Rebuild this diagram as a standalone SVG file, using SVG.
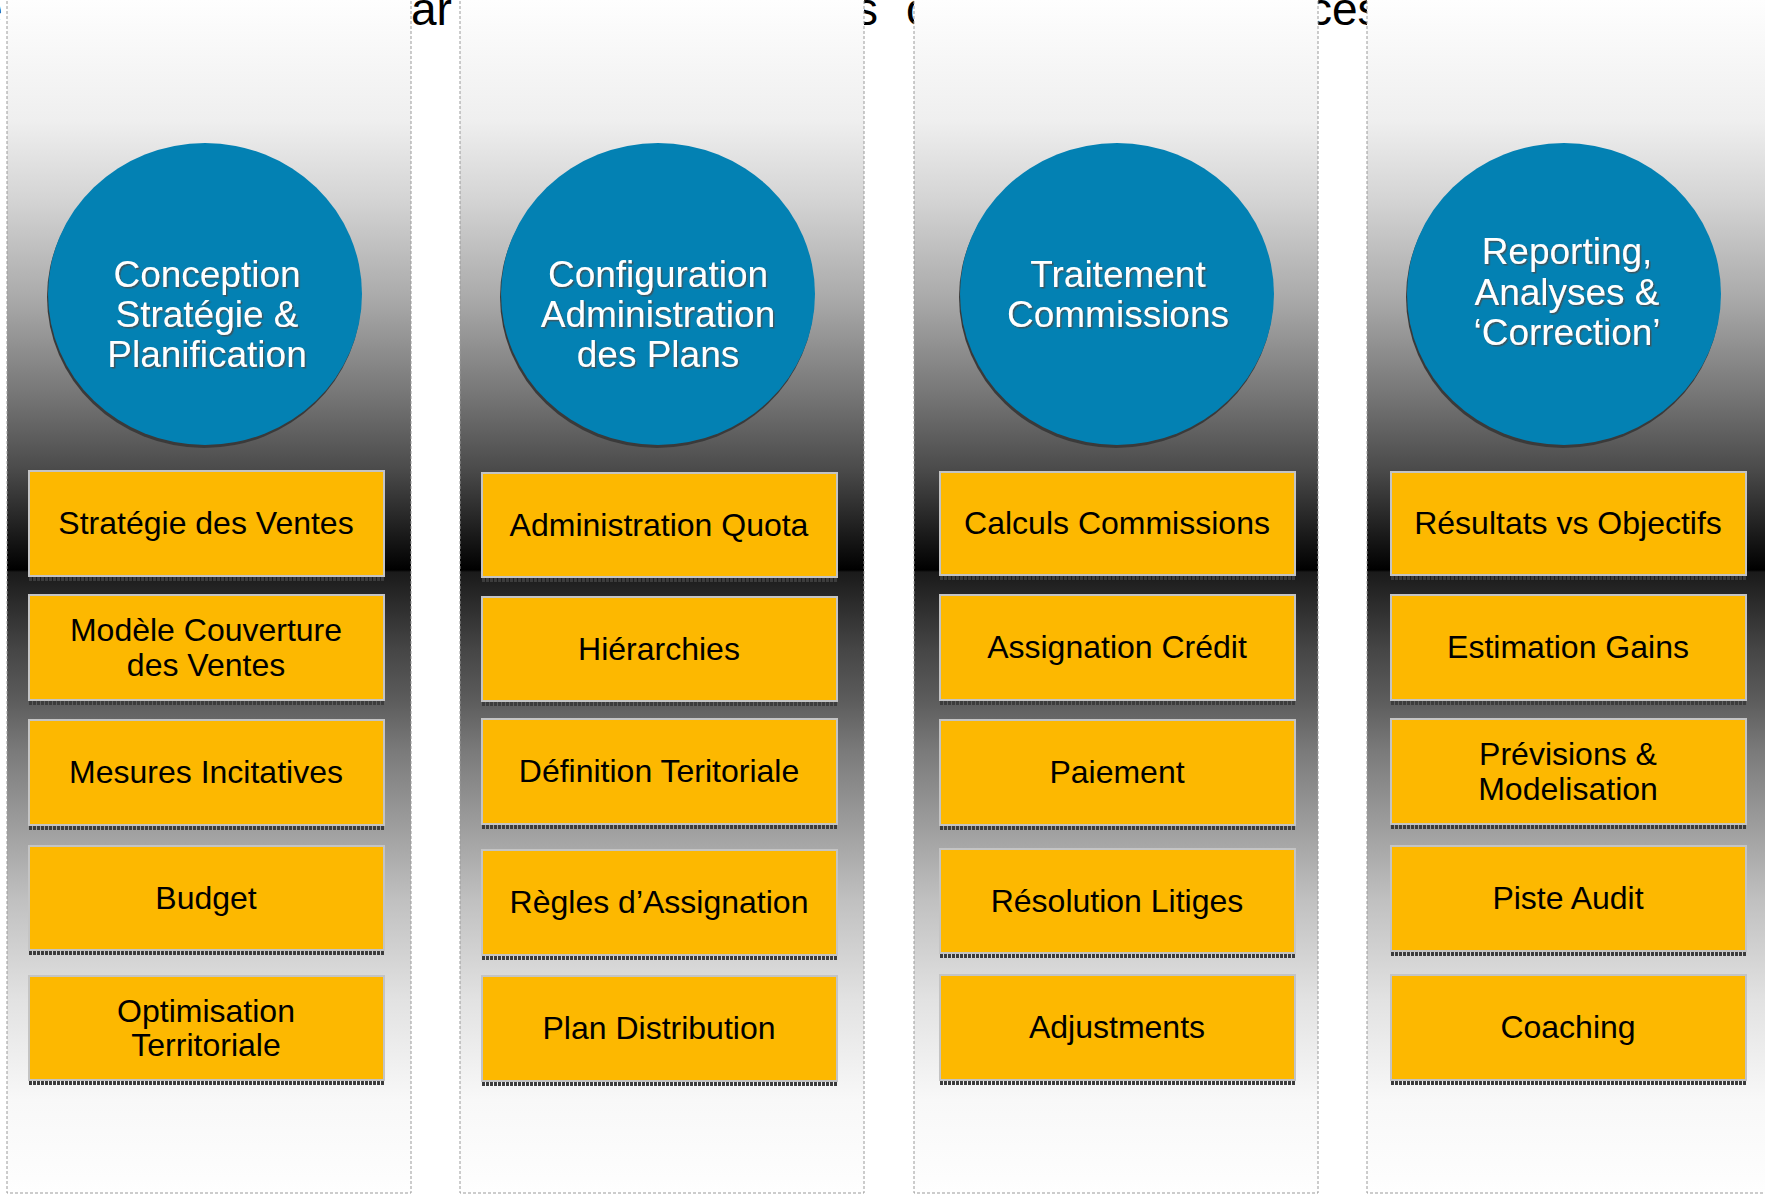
<svg xmlns="http://www.w3.org/2000/svg" width="1765" height="1194" viewBox="0 0 1765 1194">
  <defs>
    <!-- vertical band shading shared by the four process columns -->
    <linearGradient id="band" gradientUnits="userSpaceOnUse" x1="0" y1="0" x2="0" y2="1193">
      <stop offset="0" stop-color="#fefefe"/>
      <stop offset="0.1006" stop-color="#efefef"/>
      <stop offset="0.1676" stop-color="#d4d4d4"/>
      <stop offset="0.2515" stop-color="#a9a9a9"/>
      <stop offset="0.3353" stop-color="#737373"/>
      <stop offset="0.394" stop-color="#4a4a4a"/>
      <stop offset="0.444" stop-color="#1e1e1e"/>
      <stop offset="0.4778" stop-color="#000000"/>
      <stop offset="0.4795" stop-color="#1a1a1a"/>
      <stop offset="0.545" stop-color="#464646"/>
      <stop offset="0.587" stop-color="#5c5c5c"/>
      <stop offset="0.629" stop-color="#7a7a7a"/>
      <stop offset="0.754" stop-color="#c0c0c0"/>
      <stop offset="0.838" stop-color="#e2e2e2"/>
      <stop offset="0.922" stop-color="#f8f8f8"/>
      <stop offset="1" stop-color="#fefefe"/>
    </linearGradient>
    <filter id="txtShadow" x="-10%" y="-10%" width="130%" height="140%">
      <feDropShadow dx="1.5" dy="1.5" stdDeviation="0.6" flood-color="#4a4a4a" flood-opacity="0.8"/>
    </filter>
  </defs>
  <style>
    .title { font-family: "Liberation Sans", Arial, sans-serif; font-size: 46px; fill: #000; }
    .col { fill: url(#band); stroke: #9a9a9a; stroke-width: 1; stroke-dasharray: 3 2; }
    .disc { fill: #0381b3; }
    .discShade { fill: #3a3a3a; }
    .head { font-family: "Liberation Sans", Arial, sans-serif; font-size: 37px; fill: #ffffff; text-anchor: middle; filter: url(#txtShadow); }
    .box { fill: #fdb800; stroke: #c4c4c4; stroke-width: 2; }
    .boxShade { stroke: #3c3c3c; stroke-width: 4; stroke-dasharray: 3 1; }
    .lbl { font-family: "Liberation Sans", Arial, sans-serif; font-size: 32px; fill: #000; text-anchor: middle; }
  </style>

  <rect width="1765" height="1194" fill="#ffffff"/>

  <!-- title line, mostly hidden behind the columns -->
  <g id="title">
    <text class="title" x="-23" y="25">e</text>
    <text class="title" x="411" y="25">ar</text>
    <text class="title" x="855" y="25">s</text>
    <text class="title" x="906" y="25">o</text>
    <text class="title" x="1309" y="25">ces</text>
  </g>

  <!-- column backgrounds -->
  <g id="columns">
    <rect class="col" x="7" y="-5" width="404" height="1198"/>
    <rect class="col" x="460" y="-5" width="404" height="1198"/>
    <rect class="col" x="914" y="-5" width="404" height="1198"/>
    <rect class="col" x="1367" y="-5" width="404" height="1198"/>
  </g>

  <!-- column 1 -->
  <g id="head-conception">
    <ellipse class="discShade" cx="204" cy="297" rx="157" ry="151"/>
    <ellipse class="disc" cx="205" cy="294" rx="157" ry="151"/>
    <text class="head" x="207" y="287">Conception</text>
    <text class="head" x="207" y="327">Stratégie &amp;</text>
    <text class="head" x="207" y="367">Planification</text>
  </g>
  <g id="c1-b1">
    <line class="boxShade" x1="29" y1="579" x2="384" y2="579"/>
    <rect class="box" x="29" y="471" width="355" height="105"/>
    <text class="lbl" x="206" y="534">Stratégie des Ventes</text>
  </g>
  <g id="c1-b2">
    <line class="boxShade" x1="29" y1="703" x2="384" y2="703"/>
    <rect class="box" x="29" y="595" width="355" height="105"/>
    <text class="lbl" x="206" y="641">Modèle Couverture</text>
    <text class="lbl" x="206" y="676">des Ventes</text>
  </g>
  <g id="c1-b3">
    <line class="boxShade" x1="29" y1="828" x2="384" y2="828"/>
    <rect class="box" x="29" y="720" width="355" height="105"/>
    <text class="lbl" x="206" y="783">Mesures Incitatives</text>
  </g>
  <g id="c1-b4">
    <line class="boxShade" x1="29" y1="953" x2="384" y2="953"/>
    <rect class="box" x="29" y="846" width="355" height="104"/>
    <text class="lbl" x="206" y="909">Budget</text>
  </g>
  <g id="c1-b5">
    <line class="boxShade" x1="29" y1="1083" x2="384" y2="1083"/>
    <rect class="box" x="29" y="976" width="355" height="104"/>
    <text class="lbl" x="206" y="1022">Optimisation</text>
    <text class="lbl" x="206" y="1056">Territoriale</text>
  </g>

  <!-- column 2 -->
  <g id="head-configuration">
    <ellipse class="discShade" cx="657" cy="297" rx="157" ry="151"/>
    <ellipse class="disc" cx="658" cy="294" rx="157" ry="151"/>
    <text class="head" x="658" y="287">Configuration</text>
    <text class="head" x="658" y="327">Administration</text>
    <text class="head" x="658" y="367">des Plans</text>
  </g>
  <g id="c2-b1">
    <line class="boxShade" x1="482" y1="580" x2="837" y2="580"/>
    <rect class="box" x="482" y="473" width="355" height="104"/>
    <text class="lbl" x="659" y="536">Administration Quota</text>
  </g>
  <g id="c2-b2">
    <line class="boxShade" x1="482" y1="704" x2="837" y2="704"/>
    <rect class="box" x="482" y="597" width="355" height="104"/>
    <text class="lbl" x="659" y="660">Hiérarchies</text>
  </g>
  <g id="c2-b3">
    <line class="boxShade" x1="482" y1="827" x2="837" y2="827"/>
    <rect class="box" x="482" y="719" width="355" height="105"/>
    <text class="lbl" x="659" y="782">Définition Teritoriale</text>
  </g>
  <g id="c2-b4">
    <line class="boxShade" x1="482" y1="958" x2="837" y2="958"/>
    <rect class="box" x="482" y="850" width="355" height="105"/>
    <text class="lbl" x="659" y="913">Règles d’Assignation</text>
  </g>
  <g id="c2-b5">
    <line class="boxShade" x1="482" y1="1084" x2="837" y2="1084"/>
    <rect class="box" x="482" y="976" width="355" height="105"/>
    <text class="lbl" x="659" y="1039">Plan Distribution</text>
  </g>

  <!-- column 3 -->
  <g id="head-traitement">
    <ellipse class="discShade" cx="1116" cy="297" rx="157" ry="151"/>
    <ellipse class="disc" cx="1117" cy="294" rx="157" ry="151"/>
    <text class="head" x="1118" y="287">Traitement</text>
    <text class="head" x="1118" y="327">Commissions</text>
  </g>
  <g id="c3-b1">
    <line class="boxShade" x1="940" y1="578" x2="1295" y2="578"/>
    <rect class="box" x="940" y="472" width="355" height="103"/>
    <text class="lbl" x="1117" y="534">Calculs Commissions</text>
  </g>
  <g id="c3-b2">
    <line class="boxShade" x1="940" y1="703" x2="1295" y2="703"/>
    <rect class="box" x="940" y="595" width="355" height="105"/>
    <text class="lbl" x="1117" y="658">Assignation Crédit</text>
  </g>
  <g id="c3-b3">
    <line class="boxShade" x1="940" y1="828" x2="1295" y2="828"/>
    <rect class="box" x="940" y="720" width="355" height="105"/>
    <text class="lbl" x="1117" y="783">Paiement</text>
  </g>
  <g id="c3-b4">
    <line class="boxShade" x1="940" y1="956" x2="1295" y2="956"/>
    <rect class="box" x="940" y="849" width="355" height="104"/>
    <text class="lbl" x="1117" y="912">Résolution Litiges</text>
  </g>
  <g id="c3-b5">
    <line class="boxShade" x1="940" y1="1083" x2="1295" y2="1083"/>
    <rect class="box" x="940" y="975" width="355" height="105"/>
    <text class="lbl" x="1117" y="1038">Adjustments</text>
  </g>

  <!-- column 4 -->
  <g id="head-reporting">
    <ellipse class="discShade" cx="1563" cy="297" rx="157" ry="151"/>
    <ellipse class="disc" cx="1564" cy="294" rx="157" ry="151"/>
    <text class="head" x="1567" y="264">Reporting,</text>
    <text class="head" x="1567" y="305">Analyses &amp;</text>
    <text class="head" x="1567" y="345">‘Correction’</text>
  </g>
  <g id="c4-b1">
    <line class="boxShade" x1="1391" y1="578" x2="1746" y2="578"/>
    <rect class="box" x="1391" y="472" width="355" height="103"/>
    <text class="lbl" x="1568" y="534">Résultats vs Objectifs</text>
  </g>
  <g id="c4-b2">
    <line class="boxShade" x1="1391" y1="703" x2="1746" y2="703"/>
    <rect class="box" x="1391" y="595" width="355" height="105"/>
    <text class="lbl" x="1568" y="658">Estimation Gains</text>
  </g>
  <g id="c4-b3">
    <line class="boxShade" x1="1391" y1="827" x2="1746" y2="827"/>
    <rect class="box" x="1391" y="719" width="355" height="105"/>
    <text class="lbl" x="1568" y="765">Prévisions &amp;</text>
    <text class="lbl" x="1568" y="800">Modelisation</text>
  </g>
  <g id="c4-b4">
    <line class="boxShade" x1="1391" y1="954" x2="1746" y2="954"/>
    <rect class="box" x="1391" y="846" width="355" height="105"/>
    <text class="lbl" x="1568" y="909">Piste Audit</text>
  </g>
  <g id="c4-b5">
    <line class="boxShade" x1="1391" y1="1083" x2="1746" y2="1083"/>
    <rect class="box" x="1391" y="975" width="355" height="105"/>
    <text class="lbl" x="1568" y="1038">Coaching</text>
  </g>

  <!-- no connectors between the nodes -->
  <g id="connectors"/>
</svg>
